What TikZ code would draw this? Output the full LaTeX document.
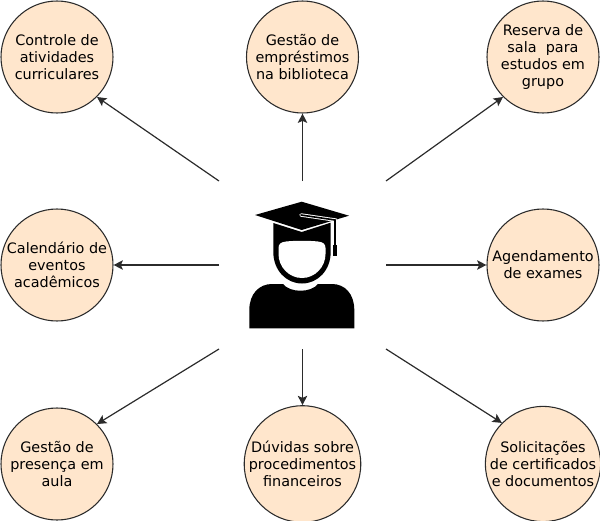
\documentclass[tikz,border=0pt]{standalone}
\usepackage{fontspec}
\setmainfont{DejaVu Sans}
\usetikzlibrary{arrows.meta}
\definecolor{peach}{HTML}{FFE6CC}
\definecolor{ink}{HTML}{2B2B2B}
\tikzstyle{service}=[draw=ink, fill=peach, circle, line width=0.8pt, minimum size=84pt, inner sep=0pt, align=center, font=\fontsize{10.8pt}{12.8pt}\selectfont]
\tikzstyle{hub}=[minimum width=125.25pt, minimum height=126pt, inner sep=0pt, outer sep=0pt]
\tikzstyle{link}=[ink, line width=0.9pt, -{Stealth[length=7pt, width=7pt, inset=1.5pt]}]

\begin{document}
\begin{tikzpicture}[x=0.75pt, y=-0.75pt]
\useasboundingbox (0,0) rectangle (600,521);

\node (controle) at (57,57) [service] {Controle de\\atividades\\curriculares};
\node (emprestimos) at (302.5,57) [service] {Gestão de\\empréstimos\\na biblioteca};
\node (reserva) at (543,57) [service] {Reserva de\\sala\ \ para\\estudos em\\grupo};
\node (calendario) at (57,265) [service] {Calendário de\\eventos\\acadêmicos};
\node (exames) at (543,265) [service] {Agendamento\\de exames};
\node (presenca) at (57,464) [service] {Gestão de\\presença em\\aula};
\node (duvidas) at (302.5,464) [service] {Dúvidas sobre\\procedimentos\\financeiros};
\node (solicita) at (543,464) [service] {Solicitações\\de certificados\\e documentos};

\node (student) at (302.5,265) [hub] {};

\draw [link] (student.north west) -- (controle.south east);
\draw [link] (student.north) -- (emprestimos.south);
\draw [link] (student.north east) -- (reserva.south west);
\draw [link] (student.west) -- (calendario.east);
\draw [link] (student.east) -- (exames.west);
\draw [link] (student.south west) -- (presenca.north east);
\draw [link] (student.south) -- (duvidas.north);
\draw [link] (student.south east) -- (solicita.north west);

% the person with the cap
\fill (249.3,328.3) -- (249.3,310) .. controls (249.3,294) and (259,284) .. (272,284) -- (283,284)
  .. controls (290,293) and (311,293) .. (318,284) -- (332,284)
  .. controls (345,284) and (354.3,294) .. (354.3,310) -- (354.3,328.3) -- cycle;
\fill (273.3,223) -- (301.7,232) -- (330.7,222.7) -- (330.7,252)
  .. controls (330.7,270) and (318,283.5) .. (302,283.5)
  .. controls (286,283.5) and (273.3,270) .. (273.3,252) -- cycle;
\fill [white] (278.5,248) .. controls (278.5,244) and (281,242) .. (286,241.5)
  .. controls (296,240.5) and (308,240.5) .. (318,241.5)
  .. controls (323,242) and (325.5,244) .. (325.5,248) -- (325.5,254)
  .. controls (325.5,267) and (315,278) .. (302,278)
  .. controls (289,278) and (278.5,267) .. (278.5,254) -- cycle;
\fill (255,215) -- (301.7,201.7) -- (349,215.7) -- (301.7,230) -- cycle;
\draw [white, line width=2.6pt, line cap=round] (301,215) -- (335,220) -- (335,225);
\draw [line width=1.2pt, line cap=round] (301,215) -- (335,220) -- (335,246);
\fill (333,245) rectangle (337,256);

\end{tikzpicture}
\end{document}
